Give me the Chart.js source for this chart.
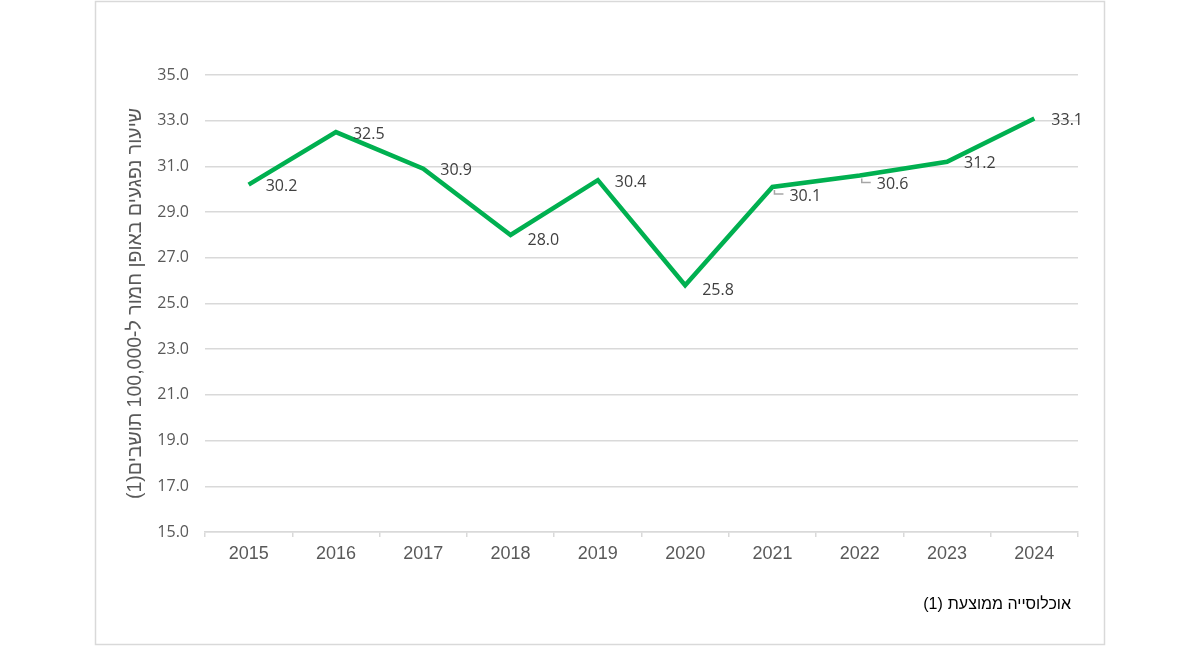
<!DOCTYPE html>
<html>
<head>
<meta charset="utf-8">
<script src="https://cdn.jsdelivr.net/npm/chart.js@4"></script>
<style>
  html, body { margin: 0; padding: 0; background: #fff; }
  #wrap { width: 1200px; height: 646px; }
  canvas { direction: rtl; }
</style>
</head>
<body>
<div id="wrap"><canvas id="injuryChart" width="1200" height="646"></canvas></div>
<script>
// נתונים
const years = ['2015', '2016', '2017', '2018', '2019', '2020', '2021', '2022', '2023', '2024'];
const rates = [30.2, 32.5, 30.9, 28.0, 30.4, 25.8, 30.1, 30.6, 31.2, 33.1];
const yTicks = [15, 17, 19, 21, 23, 25, 27, 29, 31, 33, 35];
const leaderYears = ['2021', '2022'];
const yTitle = 'שיעור נפגעים באופן חמור ל-100,000 תושבים(1)';
const footnoteMark = '(1)';
const footnoteText = 'אוכלוסייה ממוצעת';

const textColor = '#595959';
const gridColor = '#d9d9d9';

// מסגרת והערת שוליים
const framePlugin = {
    id: 'frame',
    beforeDraw(chart) {
        const ctx = chart.ctx;
        ctx.save();
        ctx.fillStyle = '#fff';
        ctx.fillRect(0, 0, chart.width, chart.height);
        ctx.strokeStyle = gridColor;
        ctx.lineWidth = 1.5;
        ctx.strokeRect(95.5, 1.5, 1009, 643);
        ctx.restore();
    },
    afterDraw(chart) {
        const ctx = chart.ctx;
        ctx.save();
        ctx.fillStyle = '#000';
        ctx.font = '16px "Liberation Sans", Arial, "DejaVu Sans"';
        ctx.textBaseline = 'middle';
        // מילים בעברית מימין, הסימון (1) משמאל
        ctx.textAlign = 'right';
        ctx.fillText(footnoteText, 1071, 605);
        const w = ctx.measureText(footnoteText).width;
        ctx.direction = 'ltr';
        ctx.textAlign = 'right';
        ctx.fillText(footnoteMark, 1071 - w - 5, 605);
        ctx.restore();
    }
};

// תוויות נתונים
const labelPlugin = {
    id: 'valueLabels',
    afterDatasetsDraw(chart) {
        const ctx = chart.ctx;
        const meta = chart.getDatasetMeta(0);
        ctx.save();
        ctx.font = '16px "Open Sans", "Liberation Sans", sans-serif';
        ctx.fillStyle = '#404040';
        ctx.textAlign = 'left';
        ctx.textBaseline = 'middle';
        meta.data.forEach((pt, i) => {
            const v = rates[i];
            let dy = 2;
            if (v < 29) dy = 5;
            if (leaderYears.includes(years[i])) {
                dy = 9;
                ctx.strokeStyle = '#a6a6a6';
                ctx.lineWidth = 1.5;
                ctx.beginPath();
                ctx.moveTo(pt.x + 2, pt.y + 3);
                ctx.lineTo(pt.x + 2, pt.y + 7);
                ctx.lineTo(pt.x + 11, pt.y + 7);
                ctx.stroke();
            }
            ctx.fillText(v.toFixed(1), pt.x + 17, pt.y + dy);
        });
        ctx.restore();
    }
};

new Chart(document.getElementById('injuryChart').getContext('2d'), {
    type: 'line',
    data: {
        labels: years,
        datasets: [{
            data: rates,
            borderColor: '#00b050',
            borderWidth: 4.5,
            pointRadius: 0,
            tension: 0,
            fill: false
        }]
    },
    options: {
        responsive: false,
        animation: false,
        layout: { padding: { top: 75, right: 122, bottom: 70, left: 124 } },
        plugins: {
            legend: { display: false },
            tooltip: { enabled: false }
        },
        scales: {
            x: {
                offset: true,
                grid: {
                    offset: true,
                    drawOnChartArea: false,
                    drawTicks: true,
                    tickLength: 5,
                    color: gridColor,
                    lineWidth: 1.5
                },
                border: { color: gridColor, width: 1.5 },
                ticks: {
                    color: textColor,
                    padding: 6,
                    font: { family: '"Liberation Sans", Arial', size: 18 }
                },
                afterFit(scale) { scale.height = 44; }
            },
            y: {
                min: 15,
                max: 35,
                afterBuildTicks(scale) {
                    scale.ticks = yTicks.map(v => ({ value: v }));
                },
                grid: {
                    color: gridColor,
                    lineWidth: 1.5,
                    drawTicks: false
                },
                border: { display: false },
                ticks: {
                    color: textColor,
                    padding: 16,
                    font: { family: '"Open Sans", "Liberation Sans", sans-serif', size: 16 },
                    callback: v => Number(v).toFixed(1)
                },
                title: {
                    display: true,
                    text: yTitle,
                    color: textColor,
                    padding: 0,
                    font: { family: '"Liberation Sans", Arial, "DejaVu Sans"', size: 19.5 }
                },
                afterFit(scale) { scale.width = 81; }
            }
        }
    },
    plugins: [framePlugin, labelPlugin]
});
</script>
</body>
</html>
